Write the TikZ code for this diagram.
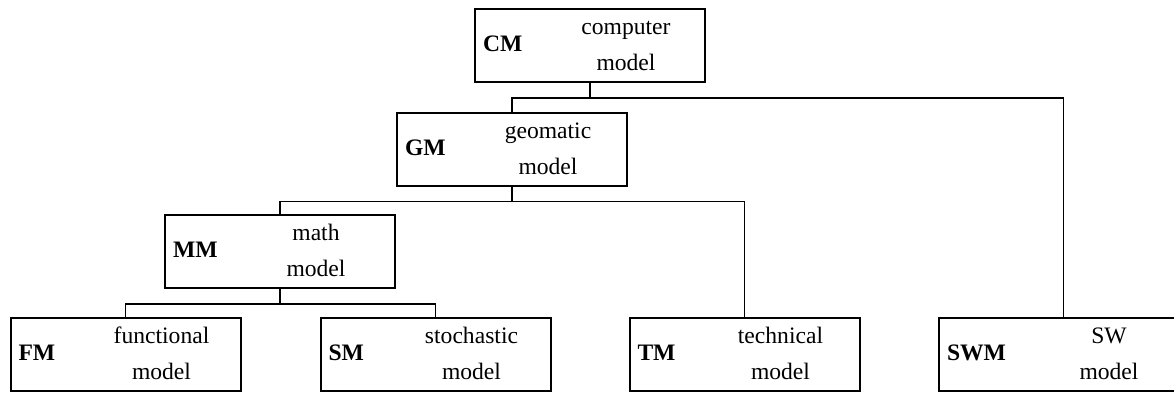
\documentclass[tikz,border=0pt]{standalone}
\usepackage{fontspec}
\setmainfont{Liberation Serif}
\usetikzlibrary{positioning}

\renewcommand{\arraystretch}{1.3}
\newcommand{\modeltext}[3]{\textbf{#1}\hfill\makebox[71pt][c]{\begin{tabular}{@{}c@{}}#2\\#3\end{tabular}}}

\begin{document}
\begin{tikzpicture}[
  x=0.5pt, y=-0.5pt,
  font=\fontsize{11.8}{14}\selectfont,
  modelbox/.style={rectangle, draw, line width=1pt, minimum width=115pt, minimum height=36.5pt, text width=107pt, inner xsep=4pt, inner ysep=0pt, align=left},
  widebox/.style={modelbox, minimum width=124.5pt, text width=116.5pt},
  link/.style={line width=0.9pt}
]
\useasboundingbox (0,0) rectangle (1174,392);

% Nodes (tree of models)
\node[modelbox] (cm) at (590,45.5) {\modeltext{CM}{computer}{model}};
\node[modelbox] (gm) at (512,149) {\modeltext{GM}{geomatic}{model}};
\node[modelbox] (mm) at (280,251.5) {\modeltext{MM}{math}{model}};
\node[modelbox] (fm) at (125.5,354.5) {\modeltext{FM}{functional}{model}};
\node[modelbox] (sm) at (435.5,354.5) {\modeltext{SM}{stochastic}{model}};
\node[modelbox] (tm) at (744.5,354.5) {\modeltext{TM}{technical}{model}};
\node[widebox] (swm) at (1063.5,354.5) {\modeltext{SWM}{SW}{model}};

% Connectors
\draw[link] (cm.south) -- ++(0,15) coordinate (cmbus) -| (gm.north);
\draw[link] (cmbus) -| (swm.north);
\draw[link] (gm.south) -- ++(0,15) coordinate (gmbus) -| (mm.north);
\draw[link] (gmbus) -| (tm.north);
\draw[link] (mm.south) -- ++(0,15) coordinate (mmbus) -| (fm.north);
\draw[link] (mmbus) -| (sm.north);

\end{tikzpicture}
\end{document}
